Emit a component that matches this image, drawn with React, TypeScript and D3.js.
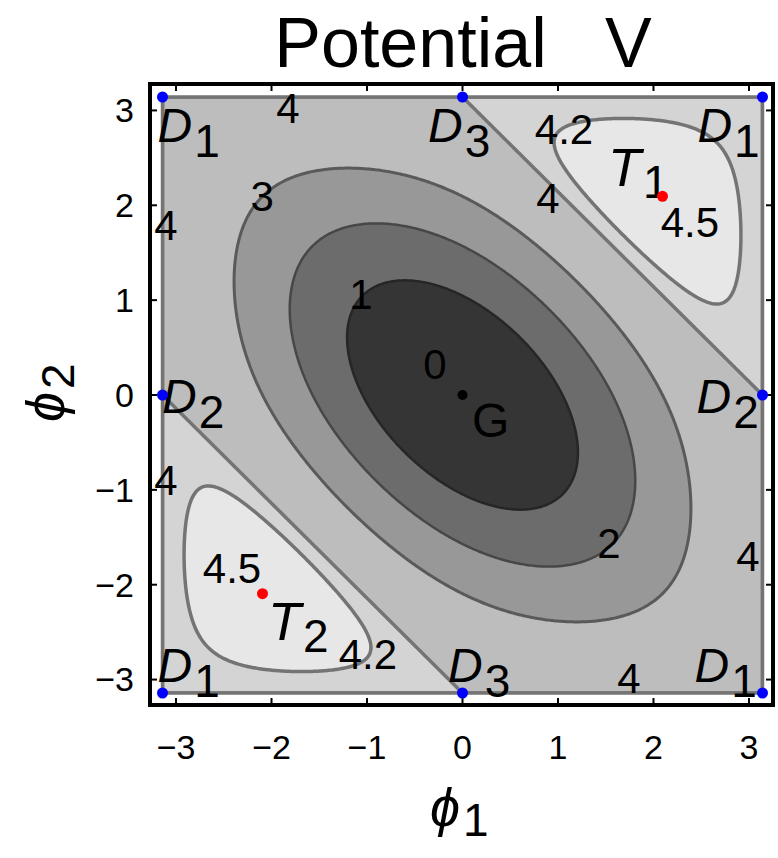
import React from "react";
import * as d3 from "d3";

// Potential V(φ1, φ2) = 3 − cos φ1 − cos φ2 − cos(φ1+φ2)
const potentialV = (a: number, b: number) => 3 - Math.cos(a) - Math.cos(b) - Math.cos(a + b);

const contourLevels = [1, 2, 3, 4, 4.2];
const bandColors = ["#353535", "#6c6c6c", "#989898", "#bdbdbd", "#d4d4d4", "#e7e7e7"];
const lineColors = ["#262626", "#474747", "#5a5a5a", "#747474", "#747474"];
const lineWidths = [2.5, 2.5, 3, 3.5, 3.5];

const xTicks = [-3, -2, -1, 0, 1, 2, 3];
const yTicks = [-3, -2, -1, 0, 1, 2, 3];

const PI = Math.PI;
// critical points
const pointNames = ["D1", "D1", "D1", "D1", "D2", "D2", "D3", "D3", "T1", "T2", "G"];
const pointX = [-PI, PI, -PI, PI, -PI, PI, 0, 0, (2 * PI) / 3, (-2 * PI) / 3, 0];
const pointY = [PI, PI, -PI, -PI, 0, 0, PI, -PI, (2 * PI) / 3, (-2 * PI) / 3, 0];
const pointColors = ["#0000ff", "#0000ff", "#0000ff", "#0000ff", "#0000ff", "#0000ff", "#0000ff", "#0000ff", "#ff0000", "#ff0000", "#000000"];

// point labels (main letter, subscript, anchor in data units)
const labelMain = ["D", "D", "D", "D", "D", "D", "D", "D", "T", "T", "G"];
const labelSubs = ["1", "3", "1", "2", "2", "1", "3", "1", "1", "2", ""];
const labelX = [-3.194, -0.361, 2.46, -3.147, 2.45, -3.194, -0.152, 2.43, 1.524, -2.037, 0.1];
const labelY = [2.663, 2.663, 2.663, -0.189, -0.189, -3.03, -3.03, -3.03, 2.2, -2.579, -0.442];

// contour value labels
const cLabelText = ["4", "3", "4", "1", "0", "4.2", "4", "4.5", "4", "2", "4.5", "4.2", "4", "4"];
const cLabelX = [-1.827, -2.099, -3.105, -1.063, -0.288, 1.063, 0.895, 2.382, -3.105, 1.534, -2.414, -0.99, 1.743, 2.99];
const cLabelY = [3.03, 2.095, 1.79, 1.063, 0.326, 2.81, 2.074, 1.821, -0.895, -1.558, -1.821, -2.726, -2.979, -1.695];

const FONT = "'Liberation Sans', Arial, Helvetica, sans-serif";

export default function App() {
  const W = 778;
  const H = 858;
  const xs = d3.scaleLinear().domain([-PI, PI]).range([162.5, 762.5]);
  const ys = d3.scaleLinear().domain([-PI, PI]).range([693, 97]);

  const N = 361;
  const lo = -3.45;
  const hi = 3.45;
  const h = (hi - lo) / (N - 1);
  const values: number[] = new Array(N * N);
  for (let j = 0; j < N; j++) {
    for (let i = 0; i < N; i++) {
      values[j * N + i] = potentialV(lo + i * h, lo + j * h);
    }
  }
  const contours = d3.contours().size([N, N]).thresholds(contourLevels)(values);
  const proj = d3.geoTransform({
    point: function (this: any, x: number, y: number) {
      this.stream.point(xs(lo + (x - 0.5) * h), ys(lo + (y - 0.5) * h));
    },
  });
  const path = d3.geoPath(proj);

  const x0 = xs(-PI), x1 = xs(PI), y0 = ys(PI), y1 = ys(-PI);

  return (
    <svg width={W} height={H} style={{ display: "block", position: "absolute", left: 0, top: 0 }}>
      <defs>
        <clipPath id="sq">
          <rect x={x0} y={y0} width={x1 - x0} height={y1 - y0} />
        </clipPath>
      </defs>
      <rect x={0} y={0} width={W} height={H} fill="#ffffff" />
      <g clipPath="url(#sq)">
        <rect x={x0} y={y0} width={x1 - x0} height={y1 - y0} fill={bandColors[0]} />
        {contours.map((c, k) => (
          <path key={"f" + k} d={path(c as any) || ""} fill={bandColors[k + 1]} stroke="none" />
        ))}
        {contours.map((c, k) => (
          <path key={"l" + k} d={path(c as any) || ""} fill="none" stroke={lineColors[k]} strokeWidth={lineWidths[k]} strokeLinejoin="round" />
        ))}
      </g>
      <rect x={x0} y={y0} width={x1 - x0} height={y1 - y0} fill="none" stroke={lineColors[3]} strokeWidth={3.5} />

      {/* frame */}
      <rect x={150} y={84} width={623} height={621} fill="none" stroke="#000" strokeWidth={4} />
      {xTicks.map((t) => (
        <g key={"xt" + t}>
          <line x1={xs(t)} x2={xs(t)} y1={703} y2={698} stroke="#000" strokeWidth={2} />
          <line x1={xs(t)} x2={xs(t)} y1={86} y2={91} stroke="#000" strokeWidth={2} />
          <text x={xs(t)} y={759} textAnchor="middle" fontFamily={FONT} fontSize={34}>
            {t < 0 ? "\u2212" + Math.abs(t) : String(t)}
          </text>
        </g>
      ))}
      {yTicks.map((t) => (
        <g key={"yt" + t}>
          <line x1={152} x2={157} y1={ys(t)} y2={ys(t)} stroke="#000" strokeWidth={2} />
          <line x1={771} x2={766} y1={ys(t)} y2={ys(t)} stroke="#000" strokeWidth={2} />
          <text x={134} y={ys(t)} dy="0.35em" textAnchor="end" fontFamily={FONT} fontSize={34}>
            {t < 0 ? "\u2212" + Math.abs(t) : String(t)}
          </text>
        </g>
      ))}

      {/* title */}
      <text x={463} y={67} textAnchor="middle" fontFamily={FONT} fontSize={70} style={{ whiteSpace: "pre" }}>
        {"Potential   V"}
      </text>
      {/* axis labels */}
      <text x={430} y={826} fontFamily={FONT} fontSize={54}>
        <tspan fontStyle="italic">{"\u03D5"}</tspan>
        <tspan fontSize={46} dx={3} dy={10}>1</tspan>
      </text>
      <text transform="translate(64,422) rotate(-90)" fontFamily={FONT} fontSize={54}>
        <tspan fontStyle="italic">{"\u03D5"}</tspan>
        <tspan fontSize={46} dx={3} dy={10}>2</tspan>
      </text>

      {/* contour value labels */}
      {cLabelText.map((s, k) => (
        <text key={"cl" + k} x={xs(cLabelX[k])} y={ys(cLabelY[k])} dy="0.36em" textAnchor="middle" fontFamily={FONT} fontSize={42}>
          {s}
        </text>
      ))}

      {/* point labels */}
      {labelMain.map((m, k) => {
        const isT = m === "T";
        const isG = m === "G";
        return (
          <text key={"pl" + k} x={xs(labelX[k])} y={ys(labelY[k])} fontFamily={FONT} fontSize={isT ? 54 : isG ? 48 : 48}>
            <tspan fontStyle={isG ? "normal" : "italic"}>{m}</tspan>
            {labelSubs[k] ? (
              <tspan fontSize={46} dx={2} dy={isT ? 12 : 15}>{labelSubs[k]}</tspan>
            ) : null}
          </text>
        );
      })}

      {/* critical points */}
      {pointNames.map((n, k) => (
        <circle key={"pt" + k} cx={xs(pointX[k])} cy={ys(pointY[k])} r={k === 10 ? 5 : 5.5} fill={pointColors[k]} />
      ))}
    </svg>
  );
}
